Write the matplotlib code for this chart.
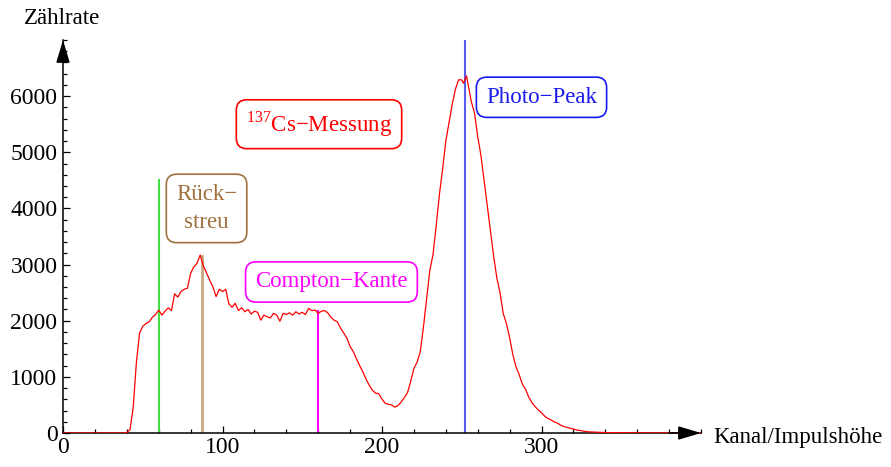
import matplotlib
matplotlib.use('Agg')
import matplotlib.pyplot as plt
from matplotlib.ticker import MultipleLocator

plt.rcParams['font.family'] = ['Liberation Serif', 'DejaVu Serif']
plt.rcParams['mathtext.fontset'] = 'custom'
plt.rcParams['mathtext.rm'] = 'Liberation Serif'

# Spektrum
kanal = [0, 10, 20, 30, 38, 40, 42, 44, 46, 48, 50, 52, 54, 56, 58, 60, 62, 64, 66, 68,
         70, 72, 74, 76, 78, 80, 82, 84, 86, 88, 90, 92, 94, 96, 98, 100, 102, 104, 106, 108,
         110, 112, 114, 116, 118, 120, 122, 124, 126, 128, 130, 132, 134, 136, 138, 140, 142, 144, 146, 148,
         150, 152, 154, 156, 158, 160, 162, 164, 166, 168, 170, 172, 174, 176, 178, 180, 182, 184, 186, 188,
         190, 192, 194, 196, 198, 200, 202, 204, 206, 208, 210, 212, 214, 216, 218, 220, 222, 224, 226, 228,
         230, 232, 234, 236, 238, 240, 242, 244, 246, 248, 250, 251, 253, 255, 256, 258, 260, 262, 264, 266,
         268, 270, 272, 274, 276, 278, 280, 282, 284, 286, 288, 290, 292, 294, 296, 298, 300, 302, 304, 306,
         308, 310, 312, 314, 316, 318, 320, 322, 324, 326, 328, 330, 334, 340, 350, 360, 380, 400]
zaehlrate = [0, 0, 0, 0, 0, 10, 60, 450, 1250, 1780, 1900, 1950, 1980, 2060, 2110, 2190, 2100, 2170, 2230, 2180,
             2480, 2420, 2520, 2560, 2580, 2840, 2960, 3020, 3170, 2980, 2850, 2720, 2600, 2430, 2560, 2520, 2560, 2300, 2240, 2310,
             2180, 2230, 2160, 2200, 2120, 2170, 2150, 2010, 2100, 2070, 2050, 2130, 2100, 1990, 2130, 2110, 2140, 2100, 2160, 2120,
             2150, 2110, 2220, 2180, 2190, 2130, 2170, 2180, 2140, 2060, 2010, 1980, 1870, 1780, 1690, 1540, 1450, 1320, 1200, 1090,
             960, 850, 760, 710, 700, 600, 530, 510, 500, 460, 490, 550, 630, 720, 920, 1150, 1260, 1450, 1890, 2400,
             2900, 3180, 3700, 4250, 4700, 5200, 5520, 5850, 6120, 6290, 6290, 6230, 6360, 6050, 5900, 5700, 5280, 4950, 4500, 4050,
             3600, 3150, 2760, 2500, 2130, 1950, 1700, 1400, 1180, 1040, 870, 780, 640, 540, 470, 410, 360, 300, 260, 230,
             200, 175, 140, 115, 100, 85, 70, 55, 45, 35, 25, 20, 15, 8, 5, 3, 2, 0]

# Markierungen: Kanal, Hoehe, Farbe
marken_kanal = [60, 87, 160, 252]
marken_hoehe = [4500, 3150, 2180, 7000]
marken_farbe = ['#44e044', '#c8a882', '#ff00ff', '#5a5aee']
marken_breite = [1.5, 2.0, 1.5, 1.5]

fig = plt.figure(figsize=(8.91, 4.67), dpi=100)
ax = fig.add_axes([63/891, 34/467, 638/891, 393/467])

ax.plot(kanal, zaehlrate, color='red', lw=0.9, zorder=3)
for k, h, c, w in zip(marken_kanal, marken_hoehe, marken_farbe, marken_breite):
    ax.plot([k, k], [0, h], color=c, lw=w, zorder=2)

ax.set_xlim(0, 400)
ax.set_ylim(0, 7000)
for s in ['top', 'right']:
    ax.spines[s].set_visible(False)
for s in ['left', 'bottom']:
    ax.spines[s].set_linewidth(1.1)
ax.xaxis.set_major_locator(MultipleLocator(100))
ax.xaxis.set_minor_locator(MultipleLocator(20))
ax.yaxis.set_major_locator(MultipleLocator(1000))
ax.yaxis.set_minor_locator(MultipleLocator(200))
ax.tick_params(which='both', direction='in', labelsize=17, width=0.9)
ax.tick_params(which='major', length=5)
ax.tick_params(which='minor', length=3)
ax.tick_params(axis='y', pad=4)
ax.tick_params(axis='x', pad=3)
ax.set_xticks([0, 100, 200, 300])
ax.set_yticks([0, 1000, 2000, 3000, 4000, 5000, 6000])

# Achsenpfeile
pfeil = dict(arrowstyle='-|>,head_length=1.0,head_width=0.3', color='black',
             mutation_scale=14, shrinkA=0, shrinkB=0, lw=1.1)
ax.annotate('', xy=(1, 0), xytext=(0.95, 0), xycoords='axes fraction',
            arrowprops=pfeil, annotation_clip=False, zorder=5)
ax.annotate('', xy=(0, 1), xytext=(0, 0.95), xycoords='axes fraction',
            arrowprops=pfeil, annotation_clip=False, zorder=5)

fig.text(62/891, 1 - 18/467, 'Zählrate', ha='center', va='center', fontsize=16.5)
fig.text(713/891, 1 - 437/467, 'Kanal/Impulshöhe', ha='left', va='center', fontsize=16.5)

# Beschriftungen
def box(x, y, txt, farbe, rand=None):
    ax.text(x, y, txt, color=farbe, fontsize=16.5, ha='center', va='center',
            linespacing=1.45, zorder=6,
            bbox=dict(boxstyle='round,pad=0.42,rounding_size=0.45', fc='white',
                      ec=rand or farbe, lw=1.2))

box(300, 5980, 'Photo\u2212Peak', '#1a1aee')
box(160.5, 5500, '$^{137}$Cs\u2212Messung', 'red')
box(90, 4000, 'Rück\u2212\nstreu', '#a0703f')
box(168.3, 2690, 'Compton\u2212Kante', '#ff00ff')

plt.savefig('out.png', dpi=100)
